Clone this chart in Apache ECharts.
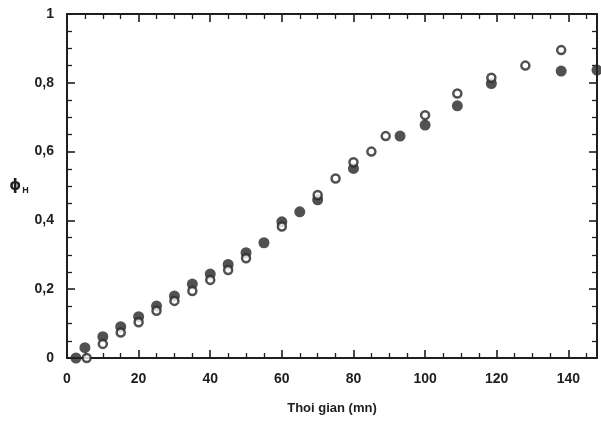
<!DOCTYPE html>
<html><head><meta charset="utf-8">
<script src="https://cdn.jsdelivr.net/npm/echarts@6/dist/echarts.min.js"></script>
<style>html,body{margin:0;padding:0;background:#fff}#c{width:601px;height:424px}</style>
</head><body><div id="c"></div>
<script>
var xTicks = [0, 20, 40, 60, 80, 100, 120, 140];
var yTicks = [0, 0.2, 0.4, 0.6, 0.8, 1];
var filledX = [2.5, 5, 10, 15, 20, 25, 30, 35, 40, 45, 50, 55, 60, 65, 70, 80, 93, 100, 109, 118.5, 138, 148];
var filledY = [0, 0.03, 0.062, 0.091, 0.12, 0.151, 0.18, 0.215, 0.244, 0.272, 0.306, 0.335, 0.396, 0.425, 0.46, 0.551, 0.645, 0.677, 0.733, 0.798, 0.834, 0.837];
var openX = [5.5, 10, 15, 20, 25, 30, 35, 40, 45, 50, 60, 70, 75, 80, 85, 89, 100, 109, 118.5, 128, 138];
var openY = [0, 0.041, 0.074, 0.104, 0.137, 0.166, 0.195, 0.227, 0.256, 0.29, 0.382, 0.474, 0.522, 0.569, 0.6, 0.645, 0.706, 0.769, 0.815, 0.85, 0.895];

var ink = '#1e1e1e';
var font = 'Liberation Sans';
function pairs(xs, ys){ return xs.map(function(x,i){ return [x, ys[i]]; }); }
function baseAxis(extra){
  var a = {
    axisLine: {show: true, onZero: false, lineStyle: {color: ink, width: 2}},
    axisTick: {show: true, inside: true, length: 8, lineStyle: {color: ink, width: 1.6}},
    minorTick: {show: true, splitNumber: 4, length: 5, lineStyle: {color: ink, width: 1.3}},
    splitLine: {show: false}
  };
  for (var k in extra) a[k] = extra[k];
  return a;
}
var chart = echarts.init(document.getElementById('c'), null, {renderer: 'canvas'});
chart.setOption({
  backgroundColor: '#fff',
  animation: false,
  grid: {left: 67, right: 4, top: 14, bottom: 66, containLabel: false},
  xAxis: [
    baseAxis({type: 'value', position: 'bottom', min: 0, max: 148, interval: 20,
      name: 'Thoi gian (mn)', nameLocation: 'middle', nameGap: 44,
      nameTextStyle: {fontFamily: font, fontWeight: 'bold', fontSize: 13, color: ink},
      axisLabel: {margin: 14, showMaxLabel: false, fontFamily: font, fontWeight: 'bold', fontSize: 14, color: ink,
        formatter: function(v){ return xTicks.indexOf(v) >= 0 ? String(v) : ''; }}}),
    baseAxis({type: 'value', position: 'top', min: 0, max: 148, interval: 20, axisLabel: {show: false}})
  ],
  yAxis: [
    baseAxis({type: 'value', position: 'left', min: 0, max: 1, interval: 0.2,
      name: '{a|ϕ}{b|H}', nameLocation: 'middle', nameRotate: 0, nameGap: 36,
      nameTextStyle: {rich: {
        a: {fontFamily: 'DejaVu Sans', fontWeight: 'bold', fontSize: 15, color: ink},
        b: {fontFamily: font, fontWeight: 'bold', fontSize: 9, color: ink, padding: [9, 0, 0, 1]}
      }},
      axisLabel: {margin: 13, fontFamily: font, fontWeight: 'bold', fontSize: 14, color: ink,
        formatter: function(v){ var r = Math.round(v*10)/10; return yTicks.indexOf(r) >= 0 ? String(r).replace('.', ',') : ''; }}}),
    baseAxis({type: 'value', position: 'right', min: 0, max: 1, interval: 0.2, axisLabel: {show: false}})
  ],
  series: [
    {type: 'scatter', name: 'filled', xAxisIndex: 0, yAxisIndex: 0, data: pairs(filledX, filledY),
      symbol: 'circle', symbolSize: 11, clip: true, z: 2,
      itemStyle: {color: '#262626', borderWidth: 0}},
    {type: 'scatter', name: 'open', xAxisIndex: 0, yAxisIndex: 0, data: pairs(openX, openY),
      symbol: 'circle', symbolSize: 8, clip: true, z: 3,
      itemStyle: {color: '#fff', borderColor: '#262626', borderWidth: 2.5}}
  ]
});
</script></body></html>
